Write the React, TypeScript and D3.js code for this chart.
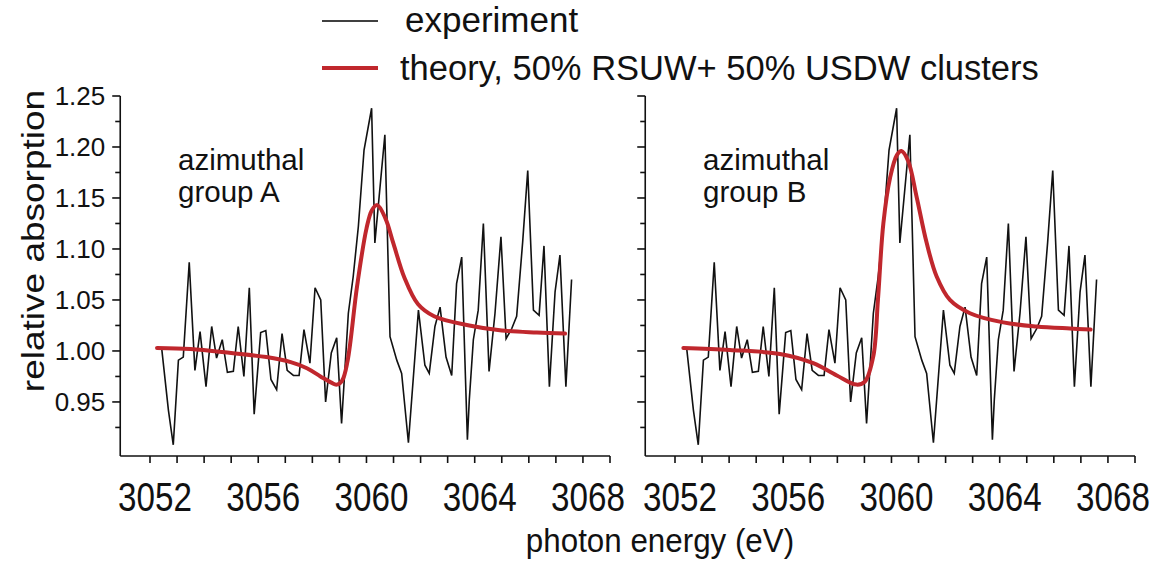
import React from "react";
import * as d3 from "d3";

// experiment (same measured spectrum shown in both panels)
const EXP_ENERGY = [
  3052.43, 3052.68, 3052.86, 3053.05, 3053.23, 3053.45, 3053.66, 3053.85, 3054.07, 3054.28,
  3054.46, 3054.67, 3054.86, 3055.08, 3055.26, 3055.47, 3055.67, 3055.85, 3056.09, 3056.28,
  3056.47, 3056.68, 3056.88, 3057.07, 3057.30, 3057.51, 3057.69, 3057.91, 3058.10, 3058.31,
  3058.49, 3058.70, 3058.90, 3059.08, 3059.33, 3059.51, 3059.70, 3059.91, 3060.19, 3060.31,
  3060.68, 3060.87, 3061.12, 3061.30, 3061.55, 3061.92, 3062.16, 3062.32, 3062.53, 3062.72,
  3062.94, 3063.15, 3063.33, 3063.52, 3063.73, 3063.80, 3063.95, 3064.13, 3064.32, 3064.53,
  3064.75, 3064.97, 3065.16, 3065.37, 3065.55, 3065.77, 3065.96, 3066.17, 3066.38, 3066.56,
  3066.76, 3066.97, 3067.15, 3067.37, 3067.58,
];
const EXP_VALUE = [
  1.003, 0.942, 0.908, 0.991, 0.994, 1.087, 0.981, 1.019, 0.965, 1.024,
  0.993, 1.011, 0.979, 0.980, 1.024, 0.975, 1.062, 0.938, 1.018, 1.020,
  0.972, 0.962, 1.017, 0.981, 0.976, 0.976, 1.021, 0.988, 1.062, 1.050,
  0.950, 0.998, 1.013, 0.929, 1.037, 1.073, 1.122, 1.197, 1.238, 1.106,
  1.212, 1.014, 0.991, 0.978, 0.910, 1.040, 0.986, 0.978, 1.024, 1.043,
  0.994, 0.976, 1.066, 1.092, 0.913, 0.952, 1.011, 1.040, 1.125, 0.980,
  1.037, 1.112, 1.012, 1.022, 1.034, 1.106, 1.177, 1.040, 1.035, 1.103,
  0.965, 1.058, 1.094, 0.965, 1.070,
];

// theory, azimuthal group A
const THEORY_A_ENERGY = [
  3052.26, 3053.5, 3055.0, 3056.3, 3057.2, 3057.8, 3058.3, 3058.7, 3058.9, 3059.1,
  3059.3, 3059.65, 3060.0, 3060.2, 3060.4, 3060.7, 3061.0, 3061.4, 3061.9, 3062.5,
  3063.8, 3065.0, 3066.3, 3067.34,
];
const THEORY_A_VALUE = [
  1.003, 1.002, 0.998, 0.994, 0.989, 0.983, 0.975, 0.969, 0.967, 0.971,
  0.990, 1.063, 1.120, 1.138, 1.143, 1.130, 1.105, 1.072, 1.046, 1.034,
  1.025, 1.020, 1.018, 1.017,
];

// theory, azimuthal group B
const THEORY_B_ENERGY = [
  3052.31, 3054.03, 3055.88, 3057.11, 3057.98, 3058.71, 3059.02, 3059.33, 3059.5, 3059.7,
  3059.95, 3060.2, 3060.37, 3060.62, 3060.93, 3061.3, 3061.67, 3062.16, 3062.9, 3064.13,
  3065.36, 3066.6, 3067.36,
];
const THEORY_B_VALUE = [
  1.003, 1.001, 0.997, 0.988, 0.976, 0.967, 0.970, 0.995, 1.050, 1.125,
  1.170, 1.192, 1.196, 1.186, 1.151, 1.106, 1.073, 1.050, 1.037, 1.028,
  1.024, 1.022, 1.021,
];

const X_TICK_LABELS = [3052, 3056, 3060, 3064, 3068];
const X_MINOR_TICKS = [3052, 3053, 3054, 3055, 3056, 3057, 3058, 3059, 3060, 3061, 3062, 3063, 3064, 3065, 3066, 3067, 3068, 3069];
const Y_TICK_LABELS = [0.95, 1.0, 1.05, 1.1, 1.15, 1.2, 1.25];
const Y_MINOR_TICKS = [0.925, 0.95, 0.975, 1.0, 1.025, 1.05, 1.075, 1.1, 1.125, 1.15, 1.175, 1.2, 1.225, 1.25];

const PANELS = [
  { offset: 0, label: ["azimuthal", "group A"], theoryE: THEORY_A_ENERGY, theoryV: THEORY_A_VALUE, showLabels: true },
  { offset: 525, label: ["azimuthal", "group B"], theoryE: THEORY_B_ENERGY, theoryV: THEORY_B_VALUE, showLabels: false },
];

const FONT = "'Liberation Sans', Arial, Helvetica, sans-serif";
const RED = "#c0272d";

export default function App() {
  const y = d3.scaleLinear().domain([0.897, 1.25]).range([456, 96]);
  const axisStartE = 3050.9;
  const axisEndE = 3069;

  return (
    <svg width={1161} height={567} style={{ position: "absolute", left: 0, top: 0, background: "#fff" }} fontFamily={FONT}>
      <rect width={1161} height={567} fill="#fff" />
      {/* legend */}
      <line x1={322} x2={378} y1={21} y2={21} stroke="#000" strokeWidth={1.5} />
      <text x={405} y={32} fontSize={35} fill="#111">experiment</text>
      <line x1={322} x2={378} y1={68} y2={68} stroke={RED} strokeWidth={4} />
      <text x={400} y={80} fontSize={34.5} fill="#111">theory, 50% RSUW+ 50% USDW clusters</text>

      {PANELS.map((p, pi) => {
        const x = d3.scaleLinear().domain([3052, 3069]).range([150 + p.offset, 610 + p.offset]);
        const lineGen = d3
          .line<[number, number]>()
          .x((d) => x(d[0]))
          .y((d) => y(d[1]));
        const smoothGen = d3
          .line<[number, number]>()
          .x((d) => x(d[0]))
          .y((d) => y(d[1]))
          .curve(d3.curveCatmullRom.alpha(0.5));
        const expPts: [number, number][] = EXP_ENERGY.map((e, i) => [e, EXP_VALUE[i]]);
        const thPts: [number, number][] = p.theoryE.map((e, i) => [e, p.theoryV[i]]);
        const x0 = x(axisStartE);
        const x1 = x(axisEndE);
        return (
          <g key={pi}>
            {/* axes */}
            <line x1={x0} x2={x0} y1={y(1.25)} y2={y.range()[0]} stroke="#111" strokeWidth={1.6} />
            <line x1={x0} x2={x1} y1={y.range()[0]} y2={y.range()[0]} stroke="#111" strokeWidth={1.6} />
            {Y_MINOR_TICKS.map((t) => {
              const major = Math.abs(Math.round(t * 20) - t * 20) < 1e-6;
              return (
                <line key={t} x1={x0 - (major ? 8 : 5)} x2={x0} y1={y(t)} y2={y(t)} stroke="#111" strokeWidth={1.6} />
              );
            })}
            {p.showLabels &&
              Y_TICK_LABELS.map((t) => (
                <text key={t} x={x0 - 15} y={y(t)} dy="0.36em" textAnchor="end" fontSize={26} fill="#111">
                  {t.toFixed(2)}
                </text>
              ))}
            {X_MINOR_TICKS.map((t) => (
              <line key={t} x1={x(t)} x2={x(t)} y1={y.range()[0]} y2={y.range()[0] + 7} stroke="#111" strokeWidth={1.6} />
            ))}
            {X_TICK_LABELS.map((t) => (
              <text
                key={t}
                transform={`translate(${x(t) + 5},511) scale(0.83,1)`}
                textAnchor="middle"
                fontSize={40}
                fill="#111"
              >
                {t}
              </text>
            ))}
            {/* panel label */}
            <text x={178 + p.offset} y={170} fontSize={29.5} fill="#111">{p.label[0]}</text>
            <text x={178 + p.offset} y={202} fontSize={29.5} fill="#111">{p.label[1]}</text>
            {/* data */}
            <path d={lineGen(expPts) || ""} fill="none" stroke="#111" strokeWidth={1.6} strokeLinejoin="miter" />
            <path d={smoothGen(thPts) || ""} fill="none" stroke={RED} strokeWidth={4} strokeLinecap="round" />
          </g>
        );
      })}

      {/* axis titles */}
      <text transform="translate(44,241) scale(0.85,1) rotate(-90)" textAnchor="middle" fontSize={37} fill="#111">
        relative absorption
      </text>
      <text transform="translate(660,552) scale(0.95,1)" textAnchor="middle" fontSize={33} fill="#111">
        photon energy (eV)
      </text>
    </svg>
  );
}
